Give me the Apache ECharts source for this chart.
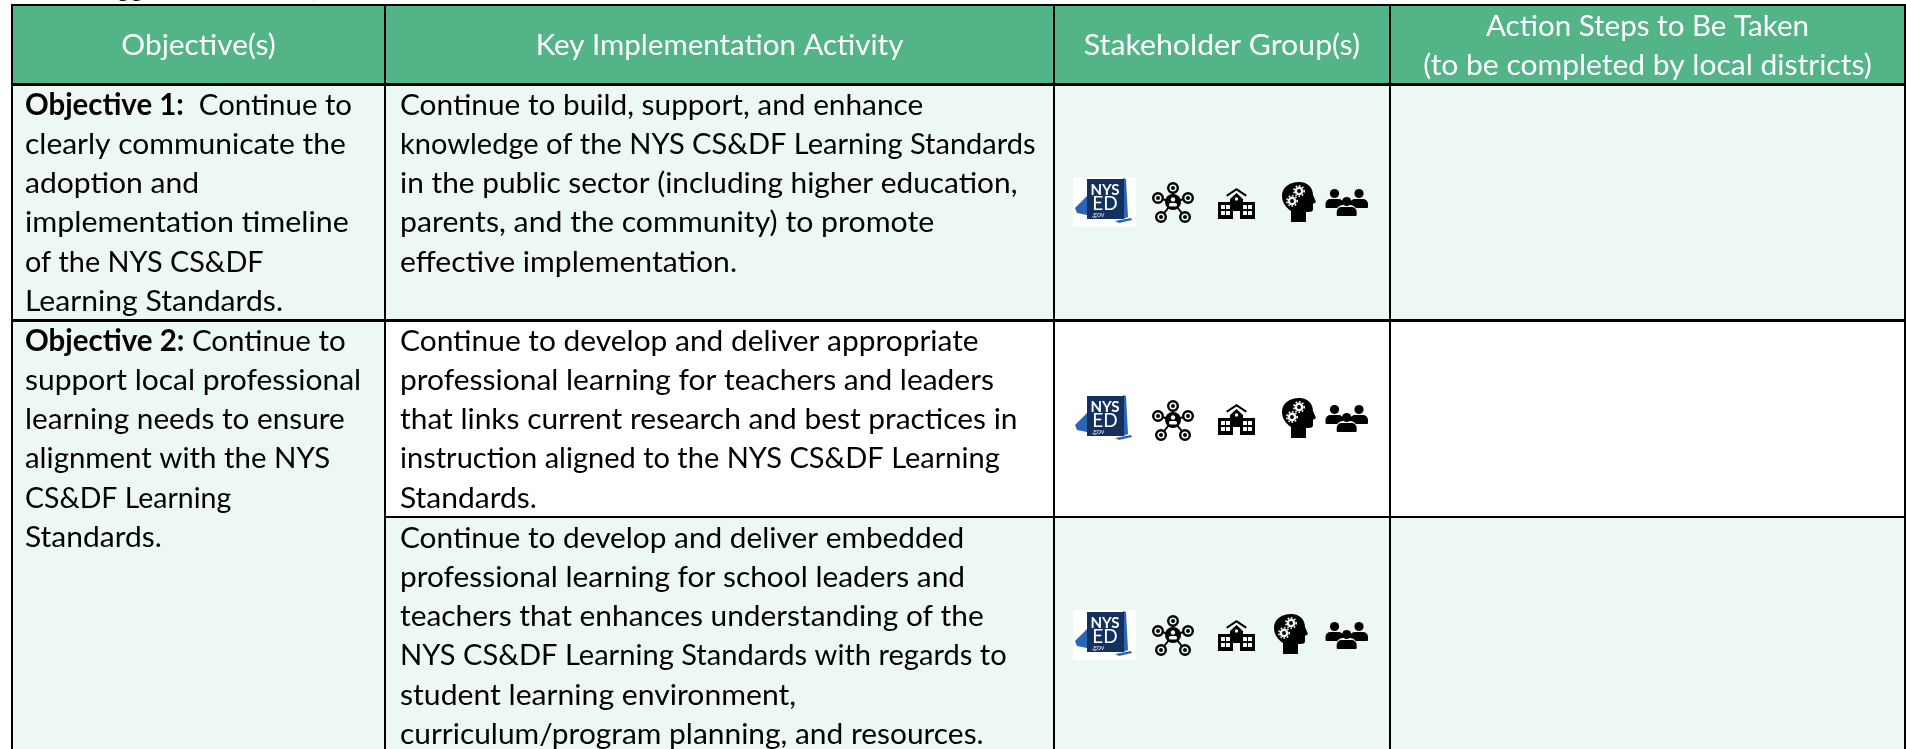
<!DOCTYPE html>
<html>
<head>
<meta charset="utf-8">
<title>Objectives table</title>
<style>
  html, body { margin: 0; padding: 0; background: #fff; }
  #chart { width: 1906px; height: 749px; }
</style>
<script src="https://cdn.jsdelivr.net/npm/echarts@6/dist/echarts.min.js"></script>
</head>
<body>
<div id="chart"></div>
<script>
const headers = [
  ['Objective(s)'],
  ['Key Implementation Activity'],
  ['Stakeholder Group(s)'],
  ['Action Steps to Be Taken', '(to be completed by local districts)'],
]
const topLine = 'Suggested Timeline,'
const objectiveOne = [
  '{b|Objective 1:}  Continue to',
  'clearly communicate the',
  'adoption and',
  'implementation timeline',
  'of the NYS CS&DF',
  'Learning Standards.',
]
const objectiveTwo = [
  '{b|Objective 2:} Continue to',
  'support local professional',
  'learning needs to ensure',
  'alignment with the NYS',
  'CS&DF Learning',
  'Standards.',
]
const activityOne = [
  'Continue to build, support, and enhance',
  'knowledge of the NYS CS&DF Learning Standards',
  'in the public sector (including higher education,',
  'parents, and the community) to promote',
  'effective implementation.',
]
const activityTwo = [
  'Continue to develop and deliver appropriate',
  'professional learning for teachers and leaders',
  'that links current research and best practices in',
  'instruction aligned to the NYS CS&DF Learning',
  'Standards.',
]
const activityThree = [
  'Continue to develop and deliver embedded',
  'professional learning for school leaders and',
  'teachers that enhances understanding of the',
  'NYS CS&DF Learning Standards with regards to',
  'student learning environment,',
  'curriculum/program planning, and resources.',
]

// layout of the table, in page pixels
const colX = [12, 385, 1054, 1390, 1905]
const rowY = [5, 84, 320, 517, 760]
const GREEN = '#52b487'
const LIGHT = '#edf7f3'
const FONT = 'Lato, "Noto Sans", sans-serif'
const FONT_SIZE = 29.5
const TEXT_SCALE = 0.862
const LINE_H = 39.25

// Lato is narrower than the reference face, so every line gets its own stretch
const headerFit = [[1.174], [1.16], [1.19], [1.162, 1.18]]
const objectiveOneFit = [1.155, 1.179, 1.183, 1.194, 1.134, 1.185]
const objectiveTwoFit = [1.159, 1.179, 1.17, 1.157, 1.119, 1.179]
const activityOneFit = [1.172, 1.142, 1.173, 1.19, 1.184]
const activityTwoFit = [1.176, 1.178, 1.176, 1.141, 1.18]
const activityThreeFit = [1.172, 1.174, 1.174, 1.144, 1.185, 1.176]

const els = []
const rect = (x, y, w, h, fill) => els.push({ type: 'rect', shape: { x, y, width: w, height: h }, style: { fill } })

const bodyText = (lines, fit, x, y) => {
  lines.forEach((line, i) => {
    els.push({
      type: 'text',
      x,
      y: y + i * LINE_H,
      scaleX: TEXT_SCALE * fit[i],
      style: {
        text: line,
        fontFamily: FONT,
        fontSize: FONT_SIZE,
        fill: '#000',
        verticalAlign: 'middle',
        rich: { b: { fontWeight: 'bold', fontFamily: FONT, fontSize: FONT_SIZE, fill: '#000' } },
      },
    })
  })
}

// cell backgrounds
rect(colX[0], rowY[0], colX[4] - colX[0], rowY[1] - rowY[0], GREEN)
rect(colX[0], rowY[1], colX[4] - colX[0], rowY[2] - rowY[1], LIGHT)
rect(colX[0], rowY[2], colX[1] - colX[0], rowY[4] - rowY[2], LIGHT)
rect(colX[1], rowY[2], colX[4] - colX[1], rowY[3] - rowY[2], '#fff')
rect(colX[1], rowY[3], colX[4] - colX[1], rowY[4] - rowY[3], LIGHT)

// clipped line of text above the table
els.push({
  type: 'text', x: 88, y: -29, scaleX: TEXT_SCALE * 1.02,
  style: { text: topLine, fontFamily: FONT, fontSize: FONT_SIZE, fontWeight: 'bold', fill: '#000' },
})

// grid lines
const LW = 2
colX.forEach(x => rect(x - 1, rowY[0] - 1, LW, 760, '#000'))
rect(colX[0] - 1, rowY[0] - 1, colX[4] - colX[0] + 2, LW, '#000')
rect(colX[0] - 1, rowY[1] - 1, colX[4] - colX[0] + 2, LW + 1, '#000')
rect(colX[0] - 1, rowY[2] - 1, colX[4] - colX[0] + 2, LW + 1, '#000')
rect(colX[1] - 1, rowY[3] - 1, colX[4] - colX[1] + 2, LW, '#000')

// header labels
headers.forEach((lines, c) => {
  const cx = (colX[c] + colX[c + 1]) / 2
  lines.forEach((line, i) => {
    els.push({
      type: 'text',
      x: cx,
      y: lines.length === 1 ? 45 : 26 + i * 39,
      scaleX: TEXT_SCALE * headerFit[c][i],
      style: { text: line, fontFamily: FONT, fontSize: FONT_SIZE, fill: '#fff', align: 'center', verticalAlign: 'middle' },
    })
  })
})

bodyText(objectiveOne, objectiveOneFit, 25, 105)
bodyText(activityOne, activityOneFit, 400, 105)
bodyText(objectiveTwo, objectiveTwoFit, 25, 341)
bodyText(activityTwo, activityTwoFit, 400, 341)
bodyText(activityThree, activityThreeFit, 400, 538)

// stakeholder icons, each drawn in its own local box
const nysLogo = (x, y, backed) => {
  const c = []
  if (backed) c.push({ type: 'rect', shape: { x: 0, y: 0, width: 63, height: 50 }, style: { fill: '#fff' } })
  c.push({ type: 'path', shape: { pathData: 'M2 31 L14 19 L14 38 L4 36 Z' }, style: { fill: '#2b65b5' } })
  c.push({ type: 'path', shape: { pathData: 'M50 1 L53 2 L55 40 L50 42 Z' }, style: { fill: '#2b65b5' } })
  c.push({ type: 'rect', shape: { x: 14, y: 2, width: 37, height: 40 }, style: { fill: '#14305f' } })
  c.push({ type: 'path', shape: { pathData: 'M42 44 L58 41 L59 43 L46 46 Z' }, style: { fill: '#2b65b5' } })
  c.push({ type: 'text', x: 32, y: 13, style: { text: 'NYS', fontFamily: FONT, fontSize: 15, fontWeight: 'bold', fill: '#fff', align: 'center', verticalAlign: 'middle' } })
  c.push({ type: 'text', x: 32, y: 27, style: { text: 'ED', fontFamily: FONT, fontSize: 19, fill: '#fff', align: 'center', verticalAlign: 'middle' } })
  c.push({ type: 'text', x: 25, y: 38, style: { text: '.gov', fontFamily: FONT, fontSize: 7, fill: '#dfe6f2', align: 'center', verticalAlign: 'middle' } })
  els.push({ type: 'group', x, y, children: c })
}

const networkIcon = (x, y, bg) => {
  const nodes = [[0, -13], [-15, -3], [15, -3], [-12, 16], [12, 16]]
  const c = []
  nodes.forEach(n => {
    c.push({ type: 'line', shape: { x1: 0, y1: 1, x2: n[0], y2: n[1] }, style: { stroke: '#000', lineWidth: 2 } })
  })
  nodes.forEach(n => {
    c.push({ type: 'circle', shape: { cx: n[0], cy: n[1], r: 4.8 }, style: { fill: bg, stroke: '#000', lineWidth: 2.4 } })
    c.push({ type: 'circle', shape: { cx: n[0], cy: n[1], r: 2 }, style: { fill: '#000' } })
  })
  c.push({ type: 'circle', shape: { cx: 0, cy: 1, r: 8 }, style: { fill: '#000' } })
  c.push({ type: 'circle', shape: { cx: 0, cy: -1.5, r: 2.2 }, style: { fill: bg } })
  c.push({ type: 'rect', shape: { x: -4, y: 2, width: 8, height: 3.5, r: 1.5 }, style: { fill: bg } })
  els.push({ type: 'group', x, y, children: c })
}

const schoolIcon = (x, y, bg) => {
  const c = []
  c.push({ type: 'path', shape: { pathData: 'M8 7 L18.5 0 L29 7 L27.5 8.5 L18.5 2.5 L9.5 8.5 Z M12 11 L18.5 5 L25 11 L25 14 L37 14 L37 31 L0 31 L0 14 L12 14 Z' }, style: { fill: '#000' } })
  const win = [[3, 17], [8, 17], [3, 23], [8, 23], [25, 17], [30, 17], [25, 23], [30, 23]]
  win.forEach(w => c.push({ type: 'rect', shape: { x: w[0], y: w[1], width: 4, height: 4 }, style: { fill: bg } }))
  c.push({ type: 'rect', shape: { x: 15, y: 23, width: 7, height: 8 }, style: { fill: bg } })
  c.push({ type: 'circle', shape: { cx: 18.5, cy: 11, r: 1.7 }, style: { fill: bg } })
  els.push({ type: 'group', x, y, children: c })
}

const gear = (cx, cy, r, bg) => [
  { type: 'circle', shape: { cx, cy, r }, style: { fill: bg } },
  { type: 'circle', shape: { cx, cy, r: r + 0.8 }, style: { fill: 'none', stroke: bg, lineWidth: 1.6, lineDash: [1.6, 1.8] } },
  { type: 'circle', shape: { cx, cy, r: r * 0.45 }, style: { fill: '#000' } },
]

const headIcon = (x, y, bg) => {
  const c = [{
    type: 'path',
    shape: { pathData: 'M9 40 L9 29 C3 25 0 20 0 14 C0 5 8 0 17 0 C26 0 31 6 31 13 L34 20 L31 22 L31 27 C31 30 28 30 24 30 L24 40 Z' },
    style: { fill: '#000' },
  }]
  c.push(...gear(17, 9, 4.4, bg))
  c.push(...gear(10, 19, 4.4, bg))
  els.push({ type: 'group', x, y, children: c })
}

const peopleIcon = (x, y, bg) => {
  const c = []
  const person = (cx, cy, hw) => {
    c.push({ type: 'circle', shape: { cx, cy, r: 4.6 }, style: { fill: '#000' } })
    c.push({ type: 'rect', shape: { x: cx - hw, y: cy + 5.5, width: hw * 2, height: 9, r: [5, 5, 1, 1] }, style: { fill: '#000' } })
  }
  person(9.5, 4.5, 9)
  person(34, 4.5, 9)
  c.push({ type: 'rect', shape: { x: 11, y: 16, width: 21, height: 11, r: [7, 7, 1, 1] }, style: { fill: bg } })
  person(21.7, 12.5, 10)
  els.push({ type: 'group', x, y, children: c })
}

nysLogo(1073, 177, true)
networkIcon(1173, 201, LIGHT)
schoolIcon(1218, 188, LIGHT)
headIcon(1282, 182, LIGHT)
peopleIcon(1325, 189, LIGHT)

nysLogo(1073, 394, false)
networkIcon(1173, 419, '#fff')
schoolIcon(1218, 404, '#fff')
headIcon(1282, 398, '#fff')
peopleIcon(1325, 405, '#fff')

nysLogo(1073, 610, true)
networkIcon(1173, 634, LIGHT)
schoolIcon(1218, 620, LIGHT)
headIcon(1274, 614, LIGHT)
peopleIcon(1325, 622, LIGHT)

const chart = echarts.init(document.getElementById('chart'))
chart.setOption({
  backgroundColor: '#fff',
  animation: false,
  series: [{
    type: 'custom',
    coordinateSystem: 'none',
    silent: true,
    clip: false,
    data: [0],
    renderItem: () => ({ type: 'group', children: els }),
  }],
})
</script>
</body>
</html>
